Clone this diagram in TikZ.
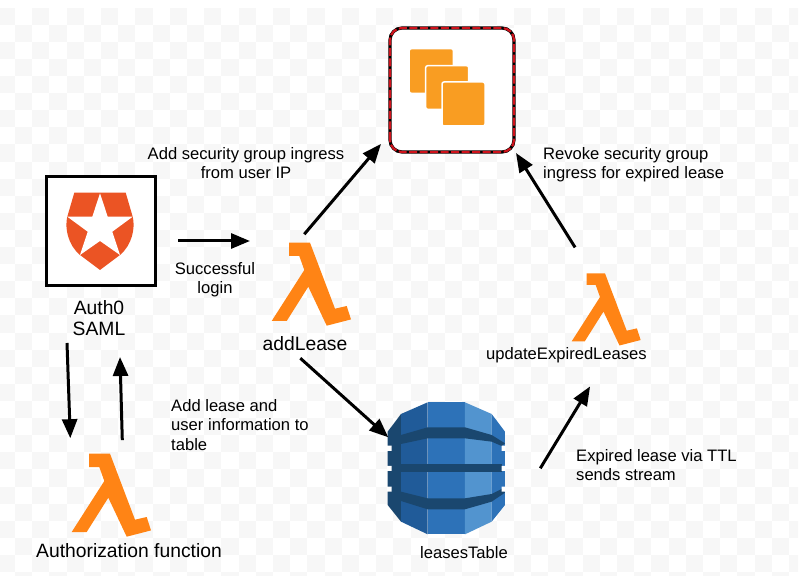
\documentclass[tikz,border=0pt]{standalone}
\usepackage{fontspec}
\setmainfont{Liberation Sans}
\usetikzlibrary{arrows.meta}

\definecolor{lambdaorange}{HTML}{FF8415}
\definecolor{ec2orange}{HTML}{F99D22}
\definecolor{ec2red}{HTML}{D0121B}
\definecolor{shieldred}{HTML}{EB5424}
\definecolor{dbdark}{HTML}{1A476F}
\definecolor{dbleft}{HTML}{205B99}
\definecolor{dbmid}{HTML}{2D72B8}
\definecolor{dbright}{HTML}{5294CF}
\definecolor{tile}{HTML}{F7F7F7}

\tikzset{
  iconbox/.style={minimum width=79pt, minimum height=82pt, inner sep=0pt, outer sep=0pt},
  label/.style={inner sep=0pt, font=\fontsize{16.6}{19.4}\selectfont},
  bigLabel/.style={inner sep=0pt, font=\fontsize{19.3}{21}\selectfont},
  flow/.style={line width=3pt, -{Triangle[length=19pt, width=15pt]}},
  lambda/.pic={
    \fill[lambdaorange] (-22.3,-41.5) -- (-1.3,-41.5) -- (23.7,24.5) -- (35.4,21.8) -- (39.7,35.2)
      -- (15.4,41.5) -- (-3,2.5) -- (-24.6,36.8) -- (-39.6,36.8) -- (-7,-14.2) -- (-12,-28.2)
      -- (-22.3,-28.2) -- cycle;
  }
}

\begin{document}
\begin{tikzpicture}[x=1pt, y=-1pt]
  \useasboundingbox (0,0) rectangle (801,577);
  % backdrop
  \begin{scope}
    \clip (0,7.7) rectangle (798,575);
    \foreach \i in {0,...,46}
      \foreach \j in {0,...,33} {
        \pgfmathparse{int(mod(\i+\j,2))}
        \ifnum\pgfmathresult=0
          \fill[tile] (-2.2+17.2*\i,7.7+17.1*\j) rectangle +(17.2,17.1);
        \fi
      }
  \end{scope}

  % ec2
  \node[minimum width=124pt, minimum height=124pt, inner sep=0pt, outer sep=0pt, fill=white] (ec2) at (452,90) {};
  \draw[line width=3.2pt, rounded corners=12pt] (ec2.south west) rectangle (ec2.north east);
  \draw[line width=2.2pt, ec2red, dash pattern=on 8pt off 2.5pt, rounded corners=12pt] (ec2.south west) rectangle (ec2.north east);
  \fill[ec2orange, rounded corners=2pt] (410,49.3) rectangle (452.7,92.7);
  \fill[ec2orange, draw=white, line width=1.5pt, rounded corners=2pt] (425.7,65.7) rectangle (468.7,109.3);
  \fill[ec2orange, draw=white, line width=1.5pt, rounded corners=2pt] (442,82) rectangle (485,126);

  % auth0
  \node[draw, line width=3pt, fill=white, minimum size=109pt, inner sep=0pt, outer sep=0pt] (auth) at (100.5,231.5) {};
  \fill[shieldred] (74.3,192.7) -- (125.7,192.7) -- (132.7,216.7) .. controls (135.5,228) and (132,245) .. (120,255)
    -- (100,270) -- (80,255) .. controls (68,245) and (64.5,228) .. (67.3,216.7) -- cycle;
  \fill[white] (100,193.3) -- (107.7,216.7) -- (132.7,216.7) -- (112.3,231.7) -- (120,255) -- (100,241)
    -- (80,255) -- (87.7,231.7) -- (67.3,216.7) -- (92.3,216.7) -- cycle;

  % lambdas
  \node[iconbox] (addLease) at (311.3,284.2) {};
  \pic at (addLease) {lambda};
  \node[iconbox] (authFunc) at (111.3,495.2) {};
  \pic at (authFunc) {lambda};
  \node[iconbox] (updateExpired) at (606.1,309.4) {};
  \pic[scale=.87] at (updateExpired) {lambda};

  % dynamodb
  \node[minimum width=117pt, minimum height=132pt, inner sep=0pt, outer sep=0pt] (leases) at (446.3,468.3) {};
  \begin{scope}[shift={(375,390)}, x=.3333pt, y=-.3333pt]
    \fill[dbdark] (38,125) -- (78,72) -- (78,395) -- (38,345) -- cycle;
    \fill[dbleft] (78,72) -- (158,37) -- (158,433) -- (78,395) -- cycle;
    \fill[dbmid] (158,37) rectangle (270,433);
    \fill[dbright] (270,37) -- (350,72) -- (350,395) -- (270,433) -- cycle;
    \fill[dbmid] (350,72) -- (390,125) -- (390,345) -- (350,395) -- cycle;
    \fill[dbdark] (78,135) -- (158,112) -- (270,112) -- (350,135) -- (390,160) -- (380,168) -- (350,155)
      -- (270,145) -- (158,145) -- (78,162) -- cycle;
    \fill[dbdark] (78,222) rectangle (380,247);
    \fill[dbdark] (78,305) -- (158,325) -- (270,325) -- (350,312) -- (380,297) -- (390,308) -- (350,335)
      -- (270,358) -- (158,358) -- (78,333) -- cycle;
    \fill[white] (36,167) rectangle (50,183) (36,228) rectangle (50,243) (36,290) rectangle (50,305);
    \fill[white] (380,167) rectangle (392,183) (380,228) rectangle (392,243) (380,290) rectangle (392,305);
  \end{scope}

  % labels
  \node[bigLabel, align=center] (authLabel) at (99,318.5) {Auth0\\SAML};
  \node[bigLabel] (addLeaseLabel) at (305,344) {addLease};
  \node[bigLabel] (authFuncLabel) at (129,551) {Authorization function};
  \node[label] (leasesLabel) at (464,553) {leasesTable};
  \node[label] (updateLabel) at (566.5,355.5) {updateExpiredLeases};
  \node[label, align=center] (ingressLabel) at (246,163) {Add security group ingress\\from user IP};
  \node[label, align=center] (loginLabel) at (215,280) {Successful\\login};
  \node[label, align=left, anchor=west] (tableLabel) at (171,425) {Add lease and\\user information to\\table};
  \node[label, align=left, anchor=west] (revokeLabel) at (543,165) {Revoke security group\\ingress for expired lease};
  \node[label, align=left, anchor=west] (streamLabel) at (576,465) {Expired lease via TTL\\sends stream};

  % connectors
  \path[flow]
  ([shift={(77.5,9.5)}]auth.center) edge ([shift={(-61.3,-43.2)}]addLease.center)
  ([shift={(-7,-50)}]addLease.center) edge ([shift={(-71,54)}]ec2.center)
  ([shift={(-11,74)}]addLease.center) edge ([shift={(-58,-31)}]leases.center)
  ([shift={(94,0)}]leases.center) edge ([shift={(-16,77)}]updateExpired.center)
  ([shift={(-31,-62)}]updateExpired.center) edge ([shift={(64,63)}]ec2.center)
  ([shift={(-33.5,111.5)}]auth.center) edge ([shift={(-41,-57)}]authFunc.center)
  ([shift={(11,-55)}]authFunc.center) edge ([shift={(19.5,125.5)}]auth.center)
  ;
\end{tikzpicture}
\end{document}
